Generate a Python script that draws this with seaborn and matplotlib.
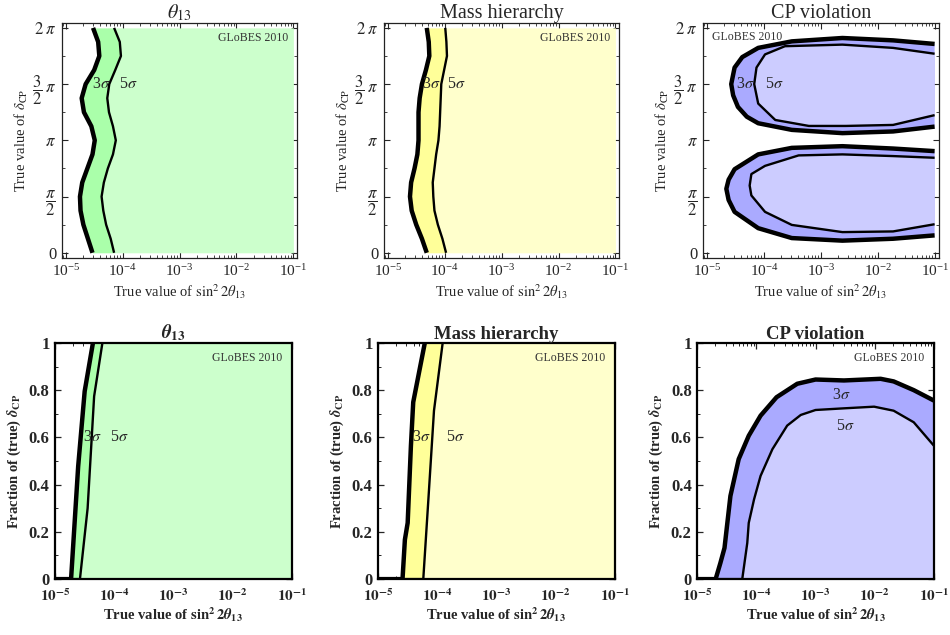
import numpy as np
import pandas as pd
import seaborn as sns
import matplotlib.pyplot as plt
from matplotlib.ticker import FixedLocator, NullFormatter, LogLocator

# ---- data (x values are log10 of sin^2 2theta13, delta in units of pi) ----
delta_grid = [0, 0.125, 0.25, 0.375, 0.5, 0.625, 0.75, 0.875, 1.0,
              1.125, 1.25, 1.375, 1.5, 1.625, 1.75, 1.875, 2.0]

th13_3s = [-4.53, -4.61, -4.69, -4.74, -4.75, -4.71, -4.62, -4.53, -4.49,
           -4.55, -4.68, -4.72, -4.65, -4.50, -4.41, -4.43, -4.52]
th13_5s = [-4.15, -4.21, -4.29, -4.34, -4.37, -4.33, -4.26, -4.17, -4.12,
           -4.17, -4.24, -4.27, -4.235, -4.13, -4.03, -4.05, -4.15]

mh_3s = [-4.315, -4.40, -4.50, -4.58, -4.61, -4.59, -4.53, -4.48, -4.46,
         -4.46, -4.46, -4.44, -4.40, -4.33, -4.27, -4.28, -4.315]
mh_5s = [-3.976, -4.04, -4.12, -4.18, -4.20, -4.21, -4.18, -4.15, -4.11,
         -4.09, -4.08, -4.07, -4.06, -4.01, -3.96, -3.97, -3.99]

# CP violation contours (open at the right edge)
cp_up3_x = [-1.0, -1.73, -2.62, -3.51, -4.10, -4.38, -4.515, -4.574, -4.54,
            -4.456, -4.30, -4.10, -3.51, -2.62, -1.73, -1.0]
cp_up3_d = [1.857, 1.889, 1.91, 1.88, 1.822, 1.74, 1.647, 1.50, 1.40,
            1.297, 1.21, 1.152, 1.093, 1.064, 1.079, 1.122]
cp_up5_x = [-1.0, -1.73, -2.62, -3.63, -3.98, -4.13, -4.17, -4.10, -3.80,
            -3.21, -2.56, -1.73, -1.0]
cp_up5_d = [1.77, 1.822, 1.851, 1.837, 1.764, 1.647, 1.50, 1.327, 1.181,
            1.128, 1.128, 1.137, 1.224]
cp_lo3_x = [-1.0, -1.73, -2.62, -3.51, -4.10, -4.515, -4.62, -4.66, -4.62,
            -4.515, -4.10, -3.51, -2.62, -1.73, -1.0]
cp_lo3_d = [0.904, 0.927, 0.948, 0.933, 0.875, 0.743, 0.65, 0.569, 0.47,
            0.364, 0.219, 0.131, 0.108, 0.125, 0.155]
cp_lo5_x = [-1.0, -1.73, -2.62, -3.39, -3.98, -4.22, -4.25, -4.22, -3.98,
            -3.51, -2.62, -1.73, -1.0]
cp_lo5_d = [0.845, 0.86, 0.875, 0.866, 0.773, 0.70, 0.598, 0.51, 0.364,
            0.248, 0.184, 0.19, 0.254]

# fraction of delta_CP plots
fth_3s_x = [-5.0, -4.73, -4.61, -4.50, -4.36]
fth_3s_y = [0, 0, 0.477, 0.795, 1.0]
fth_5s_x = [-5.0, -4.58, -4.45, -4.34, -4.20]
fth_5s_y = [0, 0, 0.30, 0.774, 1.0]

fmh_3s_x = [-5.0, -4.587, -4.547, -4.50, -4.445, -4.406, -4.21]
fmh_3s_y = [0, 0, 0.167, 0.238, 0.565, 0.749, 1.0]
fmh_5s_x = [-5.0, -4.236, -4.146, -4.055, -3.908]
fmh_5s_y = [0, 0, 0.352, 0.713, 1.0]

fcp_3s_x = [-5.0, -4.69, -4.61, -4.54, -4.44, -4.30, -4.13, -3.93, -3.66,
            -3.31, -3.0, -2.52, -1.90, -1.68, -1.34, -1.0]
fcp_3s_y = [0, 0, 0.068, 0.132, 0.352, 0.508, 0.607, 0.692, 0.77,
            0.827, 0.845, 0.841, 0.848, 0.837, 0.80, 0.756]
fcp_5s_x = [-5.0, -4.24, -4.155, -4.13, -4.04, -3.93, -3.73, -3.48, -3.25,
            -3.0, -2.52, -2.01, -1.68, -1.34, -1.0]
fcp_5s_y = [0, 0, 0.153, 0.238, 0.338, 0.437, 0.55, 0.65, 0.695,
            0.716, 0.723, 0.730, 0.713, 0.664, 0.565]

titles_top = [r"$\theta_{13}$", "Mass hierarchy", "CP violation"]
titles_bot = [r"$\boldsymbol{\theta}_{\mathbf{13}}$", "Mass hierarchy", "CP violation"]

GREEN = ("#ccffcc", "#aaffaa")
YELLOW = ("#ffffcc", "#ffff99")
BLUE = ("#ccccff", "#aaaaff")

sns.set_theme(style="ticks")
plt.rcParams["font.family"] = ["Liberation Serif", "DejaVu Serif"]
plt.rcParams["mathtext.fontset"] = "stix"
plt.rcParams["xtick.direction"] = "in"
plt.rcParams["ytick.direction"] = "in"

fig = plt.figure(figsize=(9.5, 6.35), dpi=100)
top_lefts = [0.065, 0.404, 0.740]
bot_lefts = [0.058, 0.398, 0.734]
top_axes = [fig.add_axes([l, 0.594, 0.248, 0.370]) for l in top_lefts]
bot_axes = [fig.add_axes([l, 0.088, 0.249, 0.372]) for l in bot_lefts]

THICK, THIN = 3.2, 1.7
d = np.array(delta_grid) * np.pi


def curve(ax, x, y, lw):
    df = pd.DataFrame({"x": 10 ** np.asarray(x, float), "y": np.asarray(y, float)})
    sns.lineplot(data=df, x="x", y="y", ax=ax, color="black", lw=lw,
                 sort=False, estimator=None, solid_capstyle="butt",
                 solid_joinstyle="round")


def style_top(ax):
    ax.set_xscale("log")
    ax.set_xlim(10 ** -5.07, 10 ** -0.93)
    ax.set_ylim(-0.14, 2 * np.pi + 0.14)
    ax.set_xticks([1e-5, 1e-4, 1e-3, 1e-2, 1e-1])
    ax.xaxis.set_minor_locator(LogLocator(base=10, subs=np.arange(2, 10)))
    ax.xaxis.set_minor_formatter(NullFormatter())
    ax.set_yticks([0, np.pi / 2, np.pi, 1.5 * np.pi, 2 * np.pi],
                  ["0", r"$\dfrac{\pi}{2}$", r"$\pi$", r"$\dfrac{3}{2}\;\pi$", r"$2\;\pi$"])
    ax.yaxis.set_minor_locator(FixedLocator(np.arange(0, 2.01, 0.25) * np.pi))
    ax.tick_params(which="both", top=True, right=True, labelsize=12, pad=4)
    ax.tick_params(axis="x", labelsize=11)
    ax.tick_params(which="major", length=4, width=0.8)
    ax.tick_params(which="minor", length=2, width=0.6)
    for s in ax.spines.values():
        s.set_linewidth(0.9)
        s.set_color("#222222")
    ax.set_xlabel(r"True value of $\sin^2 2\theta_{13}$", fontsize=10.5, labelpad=2)
    ax.set_ylabel(r"True value of $\delta_{\rm CP}$", fontsize=10.5, labelpad=1)


def style_bot(ax):
    ax.set_xscale("log")
    ax.set_xlim(1e-5, 1e-1)
    ax.set_ylim(0, 1)
    ax.set_xticks([1e-5, 1e-4, 1e-3, 1e-2, 1e-1],
                  [r"$\mathbf{10^{-%d}}$" % k for k in (5, 4, 3, 2, 1)])
    ax.xaxis.set_minor_locator(LogLocator(base=10, subs=np.arange(2, 10)))
    ax.xaxis.set_minor_formatter(NullFormatter())
    ax.set_yticks([0, 0.2, 0.4, 0.6, 0.8, 1.0], ["0", "0.2", "0.4", "0.6", "0.8", "1"])
    ax.yaxis.set_minor_locator(FixedLocator(np.arange(0, 1.01, 0.1)))
    ax.tick_params(which="both", top=True, right=True, labelsize=12, pad=4)
    ax.tick_params(axis="x", which="both", pad=6, labelsize=11)
    ax.tick_params(which="major", length=4, width=0.9)
    ax.tick_params(which="minor", length=2, width=0.7)
    for lab in ax.get_yticklabels():
        lab.set_fontweight("bold")
    for s in ax.spines.values():
        s.set_linewidth(1.6)
        s.set_color("black")
    ax.set_xlabel(r"True value of $\mathbf{sin^2\,2}\boldsymbol{\theta}_{\mathbf{13}}$",
                  fontsize=10.5, fontweight="bold", labelpad=1)
    ax.set_ylabel(r"Fraction of (true) $\boldsymbol{\delta}_{\mathbf{CP}}$",
                  fontsize=10.5, fontweight="bold", labelpad=4)


def globes(ax, left=False):
    kw = dict(fontsize=8.5, color="#333333", va="top", transform=ax.transAxes)
    if left:
        ax.text(0.04, 0.965, "GLoBES 2010", ha="left", **kw)
    else:
        ax.text(0.96, 0.96, "GLoBES 2010", ha="right", **kw)


def sig(ax, x, y, s):
    ax.text(10 ** x, y, s, fontsize=11.5, ha="center", va="center")


# ---- top row: delta_CP vs sin^2 2theta13 ----
for ax, c3, c5, cols in [(top_axes[0], th13_3s, th13_5s, GREEN),
                         (top_axes[1], mh_3s, mh_5s, YELLOW)]:
    x3 = 10 ** np.array(c3)
    x5 = 10 ** np.array(c5)
    ax.fill_betweenx(d, x5, 1e-1, color=cols[0], lw=0)
    ax.fill_betweenx(d, x3, x5, color=cols[1], lw=0)
    curve(ax, c3, d, THICK)
    curve(ax, c5, d, THIN)

sig(top_axes[0], -4.37, 1.5 * np.pi, r"3$\sigma$")
sig(top_axes[0], -3.91, 1.5 * np.pi, r"5$\sigma$")
sig(top_axes[1], -4.24, 1.5 * np.pi, r"3$\sigma$")
sig(top_axes[1], -3.80, 1.5 * np.pi, r"5$\sigma$")

ax = top_axes[2]
for cx, cd, col in [(cp_up3_x, cp_up3_d, BLUE[1]), (cp_lo3_x, cp_lo3_d, BLUE[1]),
                    (cp_up5_x, cp_up5_d, BLUE[0]), (cp_lo5_x, cp_lo5_d, BLUE[0])]:
    ax.fill(10 ** np.array(cx), np.array(cd) * np.pi, color=col, lw=0)
for cx, cd, lw in [(cp_up3_x, cp_up3_d, THICK), (cp_lo3_x, cp_lo3_d, THICK),
                   (cp_up5_x, cp_up5_d, THIN), (cp_lo5_x, cp_lo5_d, THIN)]:
    curve(ax, cx, np.array(cd) * np.pi, lw)
sig(ax, -4.33, 1.5 * np.pi, r"3$\sigma$")
sig(ax, -3.82, 1.5 * np.pi, r"5$\sigma$")

for i, ax in enumerate(top_axes):
    style_top(ax)
    ax.set_title(titles_top[i], fontsize=14.5, pad=3)
    globes(ax, left=(i == 2))

# ---- bottom row: fraction of delta_CP ----
for ax, x3, y3, x5, y5, cols in [
        (bot_axes[0], fth_3s_x, fth_3s_y, fth_5s_x, fth_5s_y, GREEN),
        (bot_axes[1], fmh_3s_x, fmh_3s_y, fmh_5s_x, fmh_5s_y, YELLOW)]:
    ax.fill_betweenx(y5, 10 ** np.array(x5), 1e-1, color=cols[0], lw=0)
    px = np.concatenate([x3, x5[::-1]])
    py = np.concatenate([y3, y5[::-1]])
    ax.fill(10 ** px, py, color=cols[1], lw=0)
    curve(ax, x3, y3, THICK)
    curve(ax, x5, y5, THIN)

sig(bot_axes[0], -4.37, 0.60, r"3$\sigma$")
sig(bot_axes[0], -3.91, 0.60, r"5$\sigma$")
sig(bot_axes[1], -4.265, 0.60, r"3$\sigma$")
sig(bot_axes[1], -3.70, 0.60, r"5$\sigma$")

ax = bot_axes[2]
ax.fill_between(10 ** np.array(fcp_5s_x), 0, fcp_5s_y, color=BLUE[0], lw=0)
px = np.concatenate([fcp_3s_x, fcp_5s_x[::-1]])
py = np.concatenate([fcp_3s_y, fcp_5s_y[::-1]])
ax.fill(10 ** px, py, color=BLUE[1], lw=0)
curve(ax, fcp_3s_x, fcp_3s_y, THICK)
curve(ax, fcp_5s_x, fcp_5s_y, THIN)
sig(ax, -2.57, 0.78, r"3$\sigma$")
sig(ax, -2.50, 0.65, r"5$\sigma$")

for i, ax in enumerate(bot_axes):
    style_bot(ax)
    ax.set_title(titles_bot[i], fontsize=13.5, fontweight="bold", pad=3)
    globes(ax)

fig.savefig("out.png", dpi=100)
